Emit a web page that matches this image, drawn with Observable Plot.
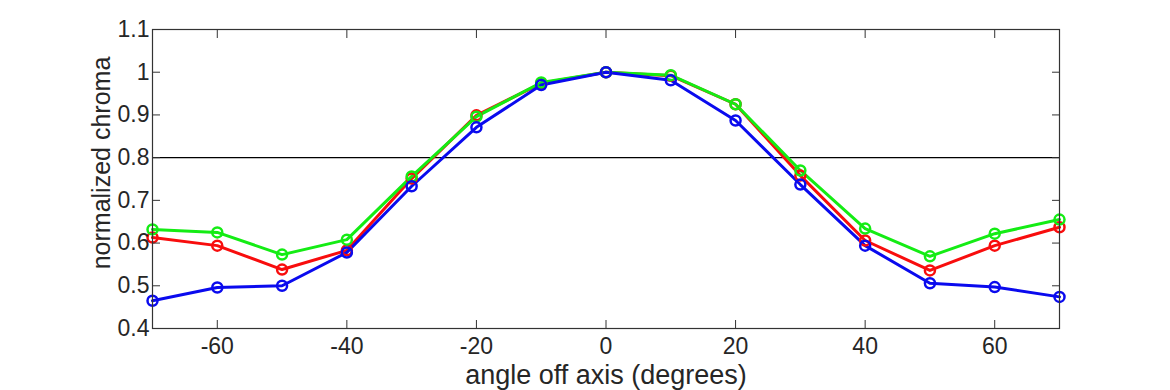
<!DOCTYPE html>
<html>
<head>
<meta charset="utf-8">
<script src="https://cdn.jsdelivr.net/npm/d3@7"></script>
<script src="https://cdn.jsdelivr.net/npm/@observablehq/plot@0.6"></script>
<style>
  html, body { margin: 0; padding: 0; background: #fff; }
  #chart svg { display: block; }
</style>
</head>
<body>
<div id="chart"></div>
<script>
const angles = [-70, -60, -50, -40, -30, -20, -10, 0, 10, 20, 30, 40, 50, 60, 70];
const redValues   = [0.613, 0.594, 0.538, 0.583, 0.751, 0.899, 0.974, 1.0, 0.992, 0.925, 0.758, 0.606, 0.536, 0.594, 0.637];
const greenValues = [0.632, 0.625, 0.573, 0.608, 0.756, 0.896, 0.976, 1.0, 0.993, 0.925, 0.770, 0.634, 0.569, 0.622, 0.655];
const blueValues  = [0.465, 0.496, 0.500, 0.578, 0.733, 0.871, 0.970, 1.0, 0.981, 0.887, 0.737, 0.594, 0.506, 0.497, 0.474];
const xTicks = [-60, -40, -20, 0, 20, 40, 60];
const yTicks = [0.4, 0.5, 0.6, 0.7, 0.8, 0.9, 1.0, 1.1];
const threshold = [0.8];

const seriesList = [
  {name: "red", values: redValues, color: "#f80d0d"},
  {name: "green", values: greenValues, color: "#14ec14"},
  {name: "blue", values: blueValues, color: "#0a0aee"}
];
const rows = seriesList.flatMap(s => angles.map((a, i) => ({series: s.name, angle: a, value: s.values[i], color: s.color})));

const axisColor = "#333";
const textColor = "#262626";

const chart = Plot.plot({
  width: 1170,
  height: 390,
  marginLeft: 152,
  marginRight: 111,
  marginTop: 29,
  marginBottom: 62,
  style: {fontFamily: "'Liberation Sans', Arial, sans-serif", fontSize: "23px", color: textColor, background: "#fff"},
  x: {domain: [-70, 70]},
  y: {domain: [0.4, 1.1]},
  marks: [
    Plot.ruleY(threshold, {stroke: "#000", strokeWidth: 1.3}),
    Plot.line(rows, {x: "angle", y: "value", z: "series", stroke: "color", strokeWidth: 3}),
    Plot.dot(rows, {x: "angle", y: "value", stroke: "color", r: 5, strokeWidth: 2.5, fill: "none"}),
    Plot.frame({stroke: axisColor, strokeWidth: 1.2}),
    Plot.axisX(xTicks, {anchor: "bottom", tickSize: -8, tickPadding: 17, stroke: axisColor, fill: textColor, fontSize: 23, label: null, tickFormat: d => String(d)}),
    Plot.axisX(xTicks, {anchor: "top", tickSize: -8, stroke: axisColor, text: null, label: null}),
    Plot.axisY(yTicks, {anchor: "left", tickSize: -8, tickPadding: 11, stroke: axisColor, fill: textColor, fontSize: 23, label: null, tickFormat: d => d3.format("~g")(+d.toFixed(1))}),
    Plot.axisY(yTicks, {anchor: "right", tickSize: -8, stroke: axisColor, text: null, label: null}),
    Plot.text(["angle off axis (degrees)"], {frameAnchor: "bottom", lineAnchor: "middle", dy: 47, fontSize: 27, fill: textColor, text: d => d}),
    Plot.text(["normalized chroma"], {frameAnchor: "left", textAnchor: "middle", lineAnchor: "middle", dx: -51, dy: -16, rotate: -90, fontSize: 25, fill: textColor, text: d => d})
  ]
});
document.getElementById("chart").appendChild(chart);
</script>
</body>
</html>
